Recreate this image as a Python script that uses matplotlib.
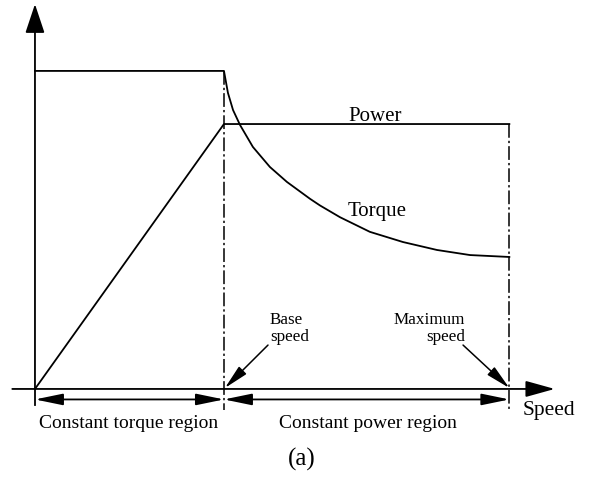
import matplotlib.pyplot as plt

plt.rcParams['font.family'] = ['Liberation Serif', 'DejaVu Serif']

# speeds: base speed = 1, max speed
base_speed = 1.0
max_speed = 2.51
rated_torque = 1.0
rated_power = 0.833

# power: rises linearly, then stays constant
power_speed = [0.0, base_speed, max_speed]
power_val = [0.0, rated_power, rated_power]

# torque: constant, then falls off above base speed
torque_speed = [0.0, 1.0, 1.021, 1.048, 1.085, 1.153, 1.243, 1.333, 1.455, 1.508,
                1.614, 1.772, 1.947, 2.127, 2.302, 2.51]
torque_val = [1.0, 1.0, 0.931, 0.877, 0.830, 0.761, 0.698, 0.651, 0.598, 0.577,
              0.540, 0.494, 0.462, 0.437, 0.421, 0.415]

fig = plt.figure(figsize=(5.91, 4.78), dpi=100)
ax = fig.add_axes([0, 0, 1, 1])
ax.set_xlim(-0.185, 2.942)
ax.set_ylim(-0.280, 1.223)
ax.axis('off')

lw = 1.3
k = 'black'

ax.plot(torque_speed, torque_val, color=k, lw=lw, solid_joinstyle='round')
ax.plot(power_speed, power_val, color=k, lw=lw)

# dash-dot lines at base and max speed
dd = (0, (9, 2, 1.5, 2))
ax.plot([base_speed, base_speed], [rated_torque, -0.066], color=k, lw=1.1, ls=dd)
ax.plot([max_speed, max_speed], [rated_power, -0.066], color=k, lw=1.1, ls=dd)

# axes with arrows
big = dict(arrowstyle='-|>,head_length=1.8,head_width=0.6', color=k, lw=lw,
           shrinkA=0, shrinkB=0)
ax.annotate('', xy=(0, 1.21), xytext=(0, 0), arrowprops=big)
big2 = dict(arrowstyle='-|>,head_length=1.8,head_width=0.5', color=k, lw=lw,
            shrinkA=0, shrinkB=0)
ax.annotate('', xy=(2.75, 0), xytext=(-0.12, 0), arrowprops=big2)
ax.plot([0, 0], [0, -0.05], color=k, lw=lw)

# region dimension arrows
small = dict(arrowstyle='<|-|>,head_length=1.7,head_width=0.35', color=k, lw=lw,
             shrinkA=0, shrinkB=0)
ydim = -0.033
ax.annotate('', xy=(0, ydim), xytext=(base_speed, ydim), arrowprops=small)
ax.annotate('', xy=(base_speed, ydim), xytext=(max_speed, ydim), arrowprops=small)

# pointer arrows
ptr = dict(arrowstyle='-|>,head_length=1.5,head_width=0.32', color=k, lw=1.1,
           shrinkA=0, shrinkB=0)
ax.annotate('', xy=(base_speed + 0.005, 0.003), xytext=(1.233, 0.138), arrowprops=ptr)
ax.annotate('', xy=(max_speed, 0.003), xytext=(2.265, 0.138), arrowprops=ptr)

ax.text(1.80, 0.843, 'Power', fontsize=15, ha='center', va='baseline')
ax.text(1.81, 0.557, 'Torque', fontsize=15, ha='center', va='center')
ax.text(1.243, 0.19, 'Base\nspeed', fontsize=12.3, ha='left', va='center',
        linespacing=1.15)
ax.text(2.275, 0.19, 'Maximum\nspeed', fontsize=12.3, ha='right', va='center',
        linespacing=1.15, multialignment='right')
ax.text(2.582, -0.082, 'Speed', fontsize=15.5, ha='left', va='baseline')
ax.text(0.497, -0.123, 'Constant torque region', fontsize=14, ha='center', va='baseline')
ax.text(1.762, -0.123, 'Constant power region', fontsize=14, ha='center', va='baseline')
ax.text(1.413, -0.223, '(a)', fontsize=18, ha='center', va='center')

fig.savefig('out.png', dpi=100)
